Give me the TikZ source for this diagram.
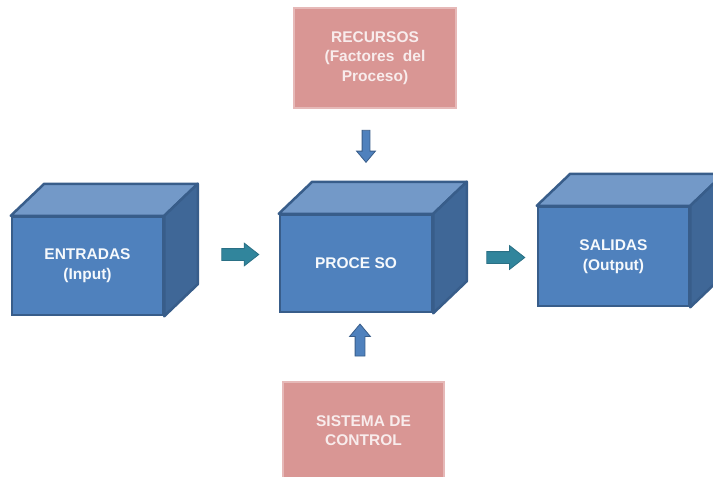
\documentclass[tikz,border=0pt]{standalone}
\usepackage{fontspec}
\setmainfont{Liberation Sans}
\usetikzlibrary{shapes.arrows,calc}
\definecolor{frontc}{HTML}{4F81BD}
\definecolor{topc}{HTML}{7399C8}
\definecolor{sidec}{HTML}{3F6797}
\definecolor{edgec}{HTML}{385D8A}
\definecolor{rosef}{HTML}{D99694}
\definecolor{roseb}{HTML}{E6B9B8}
\definecolor{rosetxt}{HTML}{F8ECEC}
\definecolor{tealf}{HTML}{31859C}
\definecolor{tealb}{HTML}{2A7085}
\begin{document}
\begin{tikzpicture}[x=1pt,y=-1pt,
  frontbox/.style={draw=edgec,fill=frontc,line width=2.5pt,inner sep=0pt,
    minimum width=151pt,minimum height=98pt,align=center,text=white!95!frontc,
    font=\fontsize{15.5}{20}\selectfont\bfseries},
  face/.style={draw=edgec,line width=2.5pt,line join=round},
  rosebox/.style={draw=roseb,fill=rosef,line width=2.5pt,inner sep=0pt,
    minimum width=161pt,minimum height=99pt,align=center,text=rosetxt,
    font=\fontsize{15.5}{19.5}\selectfont\bfseries},
  harrow/.style={single arrow,draw=tealb,fill=tealf,line width=0.8pt,inner xsep=0pt,
    inner ysep=5.5pt,single arrow head extend=5.5pt,single arrow tip angle=76,text width=0pt},
  varrow/.style={single arrow,draw=edgec,fill=frontc,line width=0.8pt,inner xsep=0pt,
    inner ysep=4pt,single arrow head extend=5.5pt,single arrow tip angle=80,text width=0pt}
]
\useasboundingbox (0,0) rectangle (713,477);
\clip (0,0) rectangle (713,477);
\fill[white] (0,0) rectangle (713,477);

% cubes: front faces
\node[frontbox] (ent) at (87.5,266) {ENTRADAS\\(Input)};
\node[frontbox,minimum width=152pt,minimum height=97pt] (pro) at (356,263.5) {PROCE SO};
\node[frontbox,minimum height=99pt] (sal) at (613.5,256.5) {SALIDAS\\(Output)};

% top and side faces
\foreach \n in {ent,pro,sal}{
  \draw[face,fill=topc] (\n.north west) -- ++(33.5,-32) -- ($(\n.north east)+(33.5,-32)$) -- (\n.north east) -- cycle;
  \draw[face,fill=sidec] (\n.north east) -- ++(33.5,-32) -- ($(\n.south east)+(33.5,-32)$) -- (\n.south east) -- cycle;
}

% resource / control boxes
\node[rosebox,minimum width=162pt,minimum height=100pt] (rec) at (375,58) {RECURSOS\\(Factores\ \ del\\Proceso)};
\node[rosebox,minimum height=97pt] (sis) at (363.5,430.5) {SISTEMA DE\\CONTROL};

% block arrows
\node[harrow,minimum height=37pt] (a1) at (236.5,254.5) {};
\node[harrow,minimum height=38pt,single arrow head extend=6pt] (a2) at (502,257.5) {};
\node[varrow,minimum height=32pt,inner ysep=3.5pt,rotate=-90] (a3) at (366,144) {};
\node[varrow,minimum height=32pt,inner ysep=4.5pt,rotate=90] (a4) at (360,343) {};
\end{tikzpicture}
\end{document}
